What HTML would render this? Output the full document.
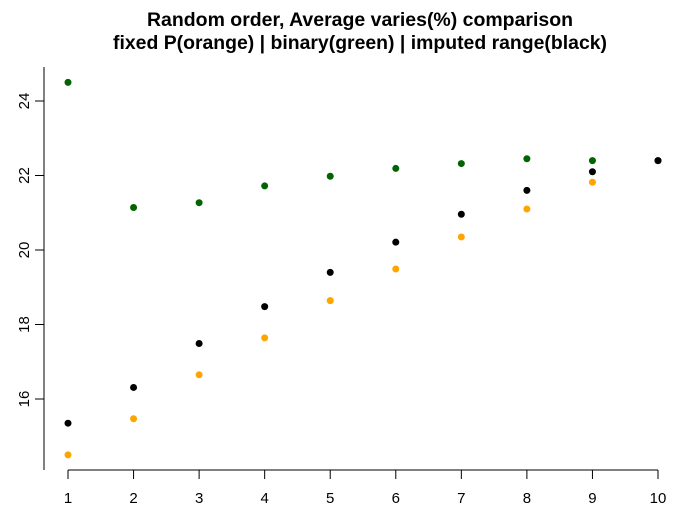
<!DOCTYPE html>
<html><head><meta charset="utf-8"><style>body{margin:0;background:#fff}svg{display:block;font-family:"Liberation Sans",Arial,sans-serif}</style></head>
<body>
<svg id="chart" width="689" height="523" xmlns="http://www.w3.org/2000/svg">
<text x="360" y="26" text-anchor="middle" font-size="19" font-weight="bold" textLength="426" lengthAdjust="spacingAndGlyphs">Random order, Average varies(%) comparison</text>
<text x="360" y="49" text-anchor="middle" font-size="19" font-weight="bold" textLength="494" lengthAdjust="spacingAndGlyphs">fixed P(orange) | binary(green) | imputed range(black)</text>
<g id="axes"></g><g id="points"></g>
</svg>
<script>
const categories=[1,2,3,4,5,6,7,8,9,10];
const orangeValues=[14.5,15.47,16.65,17.64,18.64,19.49,20.35,21.1,21.82,22.4];
const greenValues=[24.5,21.14,21.27,21.72,21.98,22.19,22.32,22.45,22.4,22.4];
const blackValues=[15.35,16.31,17.49,18.48,19.4,20.21,20.96,21.6,22.1,22.4];
const xTicks=[1,2,3,4,5,6,7,8,9,10];
const yTicks=[16,18,20,22,24];
const ns="http://www.w3.org/2000/svg";
const xs=v=>68+(v-1)*(590/9);
const ys=v=>399-(v-16)*37.25;
const axes=document.getElementById('axes'),pts=document.getElementById('points');
function mk(tag,a,p){const e=document.createElementNS(ns,tag);for(const k in a)e.setAttribute(k,a[k]);p.appendChild(e);return e;}
let l=mk('line',{x1:68,x2:658,y1:470,y2:470,stroke:'#000'},axes);


l=mk('line',{x1:44,x2:44,y1:67,y2:470,stroke:'#000'},axes);


xTicks.forEach(t=>{const x=xs(t);
 const tk=mk('line',{x1:x,x2:x,y1:470,y2:479,stroke:'#000'},axes);
 
 
 const tx=mk('text',{x:x,y:503,'text-anchor':'middle','font-size':15},axes);tx.textContent=t;
 
 });
yTicks.forEach(t=>{const y=ys(t);
 const tk=mk('line',{x1:35,x2:44,y1:y,y2:y,stroke:'#000'},axes);
 
 
 const tx=mk('text',{x:0,y:0,'text-anchor':'middle','font-size':15,transform:`translate(29,${y}) rotate(-90)`},axes);tx.textContent=t;
 
 });
[[orangeValues,'#ffa500','orange-point'],[greenValues,'#006400','green-point'],[blackValues,'#000','black-point']].forEach(([vals,c,n])=>{
 vals.forEach((v,i)=>{const p=mk('circle',{cx:xs(categories[i]),cy:ys(v),r:3.5,fill:c},pts);
 
 });});
</script>
</body></html>
